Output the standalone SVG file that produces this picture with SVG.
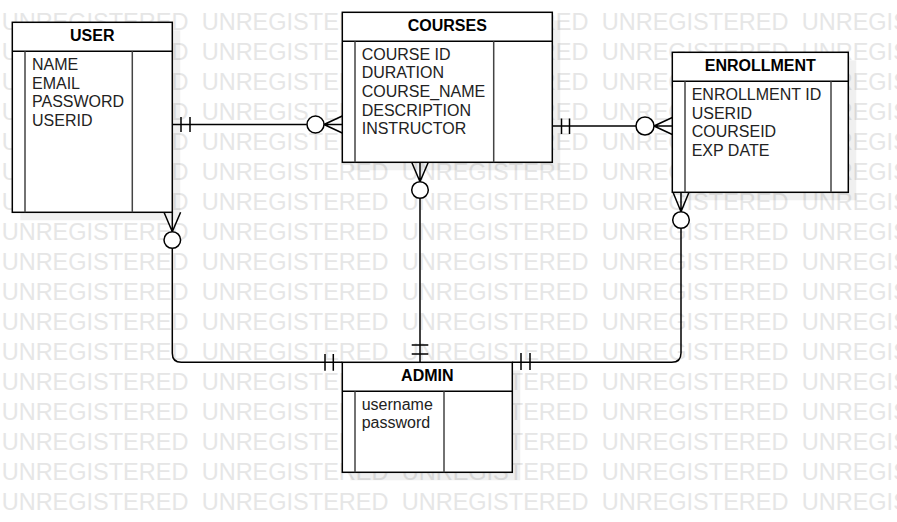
<svg xmlns="http://www.w3.org/2000/svg" width="897" height="522" viewBox="0 0 897 522">
<style>
.wm{font-family:"Liberation Sans",Arial,sans-serif;font-size:23.5px;fill:#e6e6e6;word-spacing:6.77px}
.shadow{fill:#000;fill-opacity:0.06}
.box{fill:#fff;stroke:#000;stroke-width:1.5}
.col{stroke:#444;stroke-width:1.5;fill:none}
.hdr{font-family:"Liberation Sans",Arial,sans-serif;font-size:16px;font-weight:bold;fill:#000;text-anchor:middle}
.fld{font-family:"Liberation Sans",Arial,sans-serif;font-size:16px;fill:#222}
.ln{fill:none;stroke:#000;stroke-width:1.5}
.circ{fill:#fff;stroke:#000;stroke-width:1.5}
</style>
<g id="watermark">
<text class="wm" x="1.7" y="30">UNREGISTERED UNREGISTERED UNREGISTERED UNREGISTERED UNREGISTERED</text>
<text class="wm" x="1.7" y="60">UNREGISTERED UNREGISTERED UNREGISTERED UNREGISTERED UNREGISTERED</text>
<text class="wm" x="1.7" y="90">UNREGISTERED UNREGISTERED UNREGISTERED UNREGISTERED UNREGISTERED</text>
<text class="wm" x="1.7" y="120">UNREGISTERED UNREGISTERED UNREGISTERED UNREGISTERED UNREGISTERED</text>
<text class="wm" x="1.7" y="150">UNREGISTERED UNREGISTERED UNREGISTERED UNREGISTERED UNREGISTERED</text>
<text class="wm" x="1.7" y="180">UNREGISTERED UNREGISTERED UNREGISTERED UNREGISTERED UNREGISTERED</text>
<text class="wm" x="1.7" y="210">UNREGISTERED UNREGISTERED UNREGISTERED UNREGISTERED UNREGISTERED</text>
<text class="wm" x="1.7" y="240">UNREGISTERED UNREGISTERED UNREGISTERED UNREGISTERED UNREGISTERED</text>
<text class="wm" x="1.7" y="270">UNREGISTERED UNREGISTERED UNREGISTERED UNREGISTERED UNREGISTERED</text>
<text class="wm" x="1.7" y="300">UNREGISTERED UNREGISTERED UNREGISTERED UNREGISTERED UNREGISTERED</text>
<text class="wm" x="1.7" y="330">UNREGISTERED UNREGISTERED UNREGISTERED UNREGISTERED UNREGISTERED</text>
<text class="wm" x="1.7" y="360">UNREGISTERED UNREGISTERED UNREGISTERED UNREGISTERED UNREGISTERED</text>
<text class="wm" x="1.7" y="390">UNREGISTERED UNREGISTERED UNREGISTERED UNREGISTERED UNREGISTERED</text>
<text class="wm" x="1.7" y="420">UNREGISTERED UNREGISTERED UNREGISTERED UNREGISTERED UNREGISTERED</text>
<text class="wm" x="1.7" y="450">UNREGISTERED UNREGISTERED UNREGISTERED UNREGISTERED UNREGISTERED</text>
<text class="wm" x="1.7" y="480">UNREGISTERED UNREGISTERED UNREGISTERED UNREGISTERED UNREGISTERED</text>
<text class="wm" x="1.7" y="510">UNREGISTERED UNREGISTERED UNREGISTERED UNREGISTERED UNREGISTERED</text>
</g>
<g id="connectors">
<!-- USER - COURSES -->
<path class="ln" d="M172.3,124.5 H306.8"/>
<path class="ln" d="M181,117 V132 M190,117 V132"/>
<path class="ln" d="M324,124.5 L342.3,116 M324,124.5 H342.3 M324,124.5 L342.3,133"/>
<circle class="circ" cx="315.5" cy="124.5" r="8.5"/>
<!-- COURSES - ENROLLMENT -->
<path class="ln" d="M552.3,126 H636"/>
<path class="ln" d="M561.5,118.5 V134 M569.5,118.5 V134"/>
<path class="ln" d="M654,126 L672.3,117.5 M654,126 H672.3 M654,126 L672.3,134.5"/>
<circle class="circ" cx="645" cy="126" r="9"/>
<!-- COURSES - ADMIN -->
<path class="ln" d="M420,198.3 V362.3"/>
<path class="ln" d="M411.7,345 H428.3 M411.7,354 H428.3"/>
<path class="ln" d="M420,181.7 L411.7,162.3 M420,181.7 V162.3 M420,181.7 L428.3,162.3"/>
<circle class="circ" cx="420" cy="190" r="8.3"/>
<!-- USER - ADMIN -->
<path class="ln" d="M172.3,248.3 V353.3 Q172.3,362.3 181.3,362.3 H342.3"/>
<path class="ln" d="M325,354 V370.7 M333.3,354 V370.7"/>
<path class="ln" d="M172.3,231.7 L164,212.3 M172.3,231.7 V212.3 M172.3,231.7 L180.6,212.3"/>
<circle class="circ" cx="172.3" cy="240" r="8.3"/>
<!-- ENROLLMENT - ADMIN -->
<path class="ln" d="M681,228.3 V353 Q681,362.3 671.7,362.3 H512.3"/>
<path class="ln" d="M521,353 V370 M530,353 V370"/>
<path class="ln" d="M681,211.7 L673,192.3 M681,211.7 V192.3 M681,211.7 L689,192.3"/>
<circle class="circ" cx="681" cy="220" r="8.3"/>
</g>
<g id="user">
<rect class="shadow" x="20.3" y="30.3" width="160" height="190"/>
<rect class="box" x="12.3" y="22.3" width="160" height="190"/>
<line class="ln" x1="12.3" y1="51.3" x2="172.3" y2="51.3"/>
<path class="col" d="M25,51.3 V212.3 M132.3,51.3 V212.3"/>
<text class="hdr" x="92.3" y="41">USER</text>
<text class="fld" x="32" y="70">NAME</text>
<text class="fld" x="32" y="88.7">EMAIL</text>
<text class="fld" x="32" y="107.4">PASSWORD</text>
<text class="fld" x="32" y="126.1">USERID</text>
</g>
<g id="courses">
<rect class="shadow" x="350.3" y="20.3" width="210" height="150"/>
<rect class="box" x="342.3" y="12.3" width="210" height="150"/>
<line class="ln" x1="342.3" y1="41.3" x2="552.3" y2="41.3"/>
<path class="col" d="M355,41.3 V162.3 M493.7,41.3 V162.3"/>
<text class="hdr" x="447.3" y="31">COURSES</text>
<text class="fld" x="361.7" y="59.5">COURSE ID</text>
<text class="fld" x="361.7" y="78.2">DURATION</text>
<text class="fld" x="361.7" y="96.9">COURSE_NAME</text>
<text class="fld" x="361.7" y="115.6">DESCRIPTION</text>
<text class="fld" x="361.7" y="134.3">INSTRUCTOR</text>
</g>
<g id="enrollment">
<rect class="shadow" x="680.3" y="60.3" width="176" height="140"/>
<rect class="box" x="672.3" y="52.3" width="176" height="140"/>
<line class="ln" x1="672.3" y1="81.3" x2="848.3" y2="81.3"/>
<path class="col" d="M685,81.3 V192.3 M831,81.3 V192.3"/>
<text class="hdr" x="760.3" y="71">ENROLLMENT</text>
<text class="fld" x="691.7" y="100">ENROLLMENT ID</text>
<text class="fld" x="691.7" y="118.7">USERID</text>
<text class="fld" x="691.7" y="137.4">COURSEID</text>
<text class="fld" x="691.7" y="156.1">EXP DATE</text>
</g>
<g id="admin">
<rect class="shadow" x="350.3" y="370.3" width="170" height="110"/>
<rect class="box" x="342.3" y="362.3" width="170" height="110"/>
<line class="ln" x1="342.3" y1="391.3" x2="512.3" y2="391.3"/>
<path class="col" d="M355,391.3 V472.3 M444,391.3 V472.3"/>
<text class="hdr" x="427.3" y="381">ADMIN</text>
<text class="fld" x="361.7" y="409.5">username</text>
<text class="fld" x="361.7" y="428.2">password</text>
</g>
</svg>
